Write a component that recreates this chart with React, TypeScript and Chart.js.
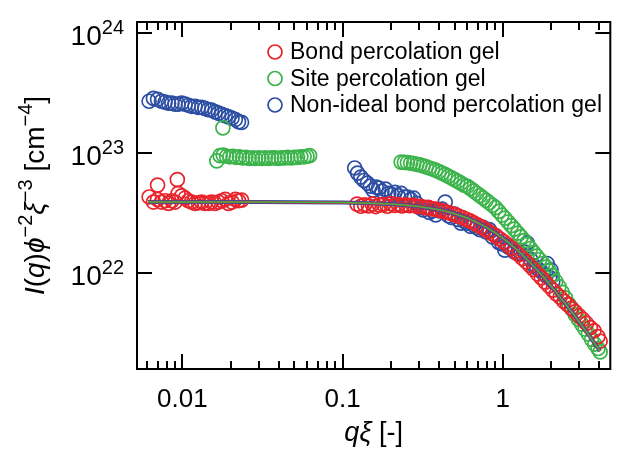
import React, { useEffect, useRef } from "react";
import { Chart, registerables } from "chart.js";

Chart.register(...registerables);

// ---------- data ----------
const legendLabels = ["Bond percolation gel", "Site percolation gel", "Non-ideal bond percolation gel"];
const seriesColors = ["#e8242b", "#3cb44b", "#2c4ea3"];

const xMajorTicks = [0.01, 0.1, 1];
const xMajorLabels = ["0.01", "0.1", "1"];
const xMinorTicks = [0.006, 0.007, 0.008, 0.009, 0.02, 0.03, 0.04, 0.05, 0.06, 0.07, 0.08, 0.09, 0.2, 0.3, 0.4, 0.5, 0.6, 0.7, 0.8, 0.9, 2, 3, 4];
const yMajorTicks = [1e22, 1e23, 1e24];
const yTickExponents = ["22", "23", "24"];

// Bond percolation gel (red)
const redLowQ = [0.0062, 0.0066, 0.007, 0.007, 0.0074, 0.0078, 0.0082, 0.0086, 0.009, 0.0093, 0.0094, 0.0099, 0.0104, 0.0109, 0.0114, 0.012, 0.0126, 0.0132, 0.0138, 0.0145, 0.0152, 0.016, 0.0168, 0.0176, 0.0185, 0.0194, 0.0204, 0.0214, 0.0224, 0.0234];
const redLowI = [4.3e22, 3.9e22, 4.1e22, 5.4e22, 3.9e22, 4.0e22, 3.8e22, 4.0e22, 3.9e22, 6.0e22, 4.6e22, 4.4e22, 4.2e22, 4.0e22, 3.9e22, 3.8e22, 3.85e22, 3.9e22, 3.8e22, 3.8e22, 3.9e22, 3.8e22, 3.9e22, 4.0e22, 4.1e22, 3.8e22, 3.9e22, 4.1e22, 4.0e22, 4.05e22];
const redHighQ = [0.123, 0.13, 0.137, 0.145, 0.153, 0.161, 0.17, 0.18, 0.19, 0.2, 0.211, 0.223, 0.235, 0.248, 0.262, 0.277, 0.292, 0.308, 0.325, 0.343, 0.362, 0.382, 0.404, 0.426, 0.45, 0.475, 0.501, 0.529, 0.559, 0.59, 0.623, 0.657, 0.694, 0.733, 0.774, 0.817, 0.862, 0.91, 0.961, 1.015, 1.07, 1.13, 1.19, 1.26, 1.33, 1.4, 1.48, 1.56, 1.65, 1.74, 1.84, 1.94, 2.05, 2.16, 2.28, 2.41, 2.54, 2.68, 2.83, 2.99, 3.16, 3.33, 3.52, 3.71, 3.92, 4.05];
const redHighI = [3.75e22, 3.6e22, 3.7e22, 3.62e22, 3.75e22, 3.58e22, 3.68e22, 3.72e22, 3.6e22, 3.78e22, 3.66e22, 3.72e22, 3.62e22, 3.7e22, 3.64e22, 3.66e22, 3.58e22, 3.6e22, 3.5e22, 3.52e22, 3.42e22, 3.4e22, 3.32e22, 3.28e22, 3.2e22, 3.14e22, 3.06e22, 2.98e22, 2.9e22, 2.8e22, 2.72e22, 2.62e22, 2.52e22, 2.42e22, 2.32e22, 2.22e22, 2.12e22, 2.02e22, 1.92e22, 1.82e22, 1.72e22, 1.61e22, 1.52e22, 1.42e22, 1.32e22, 1.24e22, 1.15e22, 1.07e22, 9.8e21, 9.1e21, 8.4e21, 7.8e21, 7.2e21, 6.7e21, 6.3e21, 5.8e21, 5.45e21, 5.1e21, 4.75e21, 4.4e21, 4.1e21, 3.8e21, 3.5e21, 3.3e21, 2.95e21, 2.7e21];

// Site percolation gel (green)
const greenLowQ = [0.0164, 0.0172, 0.0179, 0.018, 0.0189, 0.0198, 0.0207, 0.0217, 0.0227, 0.0238, 0.0249, 0.0261, 0.0273, 0.0286, 0.03, 0.0314, 0.0329, 0.0345, 0.0361, 0.0378, 0.0396, 0.0415, 0.0435, 0.0455, 0.0477, 0.05, 0.0524, 0.0549, 0.0575, 0.06, 0.0622];
const greenLowI = [8.6e22, 9.5e22, 1.62e23, 9.6e22, 9.4e22, 9.3e22, 9.4e22, 9.2e22, 9.3e22, 9.1e22, 9.2e22, 9.0e22, 9.1e22, 9.0e22, 9.1e22, 9.0e22, 9.1e22, 9.0e22, 9.1e22, 9.1e22, 9.0e22, 9.1e22, 9.1e22, 9.2e22, 9.1e22, 9.2e22, 9.2e22, 9.3e22, 9.3e22, 9.4e22, 9.5e22];
const greenHighQ = [0.232, 0.243, 0.254, 0.266, 0.278, 0.291, 0.304, 0.318, 0.333, 0.348, 0.364, 0.381, 0.399, 0.418, 0.437, 0.457, 0.478, 0.5, 0.523, 0.548, 0.573, 0.6, 0.628, 0.657, 0.687, 0.719, 0.752, 0.787, 0.823, 0.862, 0.901, 0.943, 0.987, 1.03, 1.08, 1.13, 1.18, 1.24, 1.3, 1.36, 1.42, 1.49, 1.56, 1.63, 1.7, 1.78, 1.86, 1.95, 2.04, 2.14, 2.24, 2.35, 2.46, 2.58, 2.7, 2.83, 2.97, 3.11, 3.26, 3.42, 3.58, 3.75, 3.93, 4.05];
const greenHighI = [8.4e22, 8.35e22, 8.3e22, 8.25e22, 8.15e22, 8.05e22, 7.95e22, 7.8e22, 7.65e22, 7.5e22, 7.35e22, 7.2e22, 7.0e22, 6.8e22, 6.6e22, 6.4e22, 6.2e22, 6.0e22, 5.8e22, 5.6e22, 5.4e22, 5.28e22, 5.05e22, 4.83e22, 4.62e22, 4.41e22, 4.22e22, 4.03e22, 3.85e22, 3.67e22, 3.5e22, 3.26e22, 3.04e22, 2.86e22, 2.66e22, 2.48e22, 2.32e22, 2.15e22, 2.0e22, 1.86e22, 1.72e22, 1.6e22, 1.48e22, 1.38e22, 1.29e22, 1.2e22, 1.12e22, 1.04e22, 9.5e21, 8.5e21, 7.7e21, 6.9e21, 6.2e21, 5.5e21, 5.0e21, 4.5e21, 4.1e21, 3.75e21, 3.4e21, 3.1e21, 2.8e21, 2.55e21, 2.35e21, 2.2e21];

// Non-ideal bond percolation gel (blue)
const blueLowQ = [0.0062, 0.0066, 0.007, 0.0074, 0.0078, 0.0082, 0.0086, 0.009, 0.0094, 0.0099, 0.0104, 0.0109, 0.0114, 0.012, 0.0126, 0.0132, 0.0138, 0.0145, 0.0152, 0.016, 0.0168, 0.0176, 0.0185, 0.0194, 0.0204, 0.0214, 0.0224, 0.0234];
const blueLowI = [2.7e23, 2.85e23, 2.8e23, 2.7e23, 2.65e23, 2.6e23, 2.6e23, 2.55e23, 2.55e23, 2.6e23, 2.55e23, 2.5e23, 2.45e23, 2.45e23, 2.4e23, 2.4e23, 2.35e23, 2.3e23, 2.28e23, 2.2e23, 2.15e23, 2.1e23, 2.05e23, 2.0e23, 1.95e23, 1.9e23, 1.82e23, 1.8e23];
const blueHighQ = [0.119, 0.124, 0.13, 0.136, 0.143, 0.149, 0.155, 0.162, 0.168, 0.176, 0.185, 0.194, 0.203, 0.212, 0.222, 0.232, 0.243, 0.254, 0.266, 0.278, 0.29, 0.304, 0.318, 0.333, 0.348, 0.364, 0.381, 0.399, 0.418, 0.437, 0.457, 0.478, 0.5, 0.523, 0.548, 0.573, 0.6, 0.628, 0.657, 0.687, 0.719, 0.752, 0.787, 0.823, 0.862, 0.901, 0.943, 0.987, 1.03, 1.08, 1.13, 1.18, 1.24, 1.3, 1.36, 1.42, 1.49, 1.56, 1.63, 1.7, 1.78, 1.86, 1.89, 1.96, 2.0, 2.05];
const blueHighI = [7.5e22, 6.8e22, 6.3e22, 5.9e22, 5.6e22, 5.3e22, 4.9e22, 5.2e22, 5.1e22, 4.8e22, 5.0e22, 4.6e22, 4.5e22, 4.7e22, 4.4e22, 4.6e22, 4.3e22, 4.3e22, 4.1e22, 4.2e22, 3.8e22, 3.5e22, 3.35e22, 3.5e22, 3.2e22, 3.3e22, 3.05e22, 3.3e22, 3.4e22, 3.9e22, 3.0e22, 2.9e22, 3.1e22, 2.8e22, 2.6e22, 2.7e22, 2.6e22, 2.45e22, 2.5e22, 2.4e22, 2.3e22, 2.4e22, 2.2e22, 2.3e22, 2.0e22, 2.05e22, 1.8e22, 1.75e22, 1.55e22, 1.65e22, 1.6e22, 1.5e22, 1.45e22, 1.45e22, 1.5e22, 1.78e22, 1.3e22, 1.15e22, 1.1e22, 1.05e22, 1.0e22, 9.5e21, 1.2e22, 9.2e21, 1.06e22, 8.5e21];

// Fit curves (three nearly identical fits)
const fitQ = [0.0061, 0.01, 0.03, 0.1, 0.15, 0.2, 0.25, 0.3, 0.35, 0.4, 0.45, 0.5, 0.6, 0.7, 0.8, 0.9, 1.0, 1.1, 1.2, 1.3, 1.4, 1.5, 1.6, 1.7, 1.8, 1.9, 2.0, 2.2, 2.4, 2.6, 2.8, 3.0, 3.25, 3.5, 3.75, 4.05];
const fitI = [3.9e22, 3.9e22, 3.9e22, 3.86e22, 3.815e22, 3.75e22, 3.67e22, 3.58e22, 3.47e22, 3.36e22, 3.24e22, 3.12e22, 2.87e22, 2.62e22, 2.38e22, 2.155e22, 1.95e22, 1.765e22, 1.6e22, 1.45e22, 1.315e22, 1.2e22, 1.096e22, 1.003e22, 9.2e21, 8.46e21, 7.8e21, 6.67e21, 5.77e21, 5.03e21, 4.42e21, 3.9e21, 3.37e21, 2.95e21, 2.58e21, 2.24e21];

// ---------- helpers ----------
const FONT = '"Liberation Sans", Arial, Helvetica, sans-serif';
const pts = (qs: number[], is: number[]) => qs.map((q, i) => ({ x: q, y: is[i] }));

type Part = { t: string; size: number; italic?: boolean; dy?: number };

function richWidth(ctx: CanvasRenderingContext2D, parts: Part[]) {
  let w = 0;
  for (const p of parts) {
    ctx.font = `${p.italic ? "italic " : ""}${p.size}px ${FONT}`;
    w += ctx.measureText(p.t).width;
  }
  return w;
}
function drawRich(ctx: CanvasRenderingContext2D, parts: Part[], x: number, y: number) {
  let cx = x;
  for (const p of parts) {
    ctx.font = `${p.italic ? "italic " : ""}${p.size}px ${FONT}`;
    ctx.fillText(p.t, cx, y + (p.dy || 0));
    cx += ctx.measureText(p.t).width;
  }
}

const axesPlugin = {
  id: "paperAxes",
  afterDraw(chart: any) {
    const ctx: CanvasRenderingContext2D = chart.ctx;
    const { left, right, top, bottom } = chart.chartArea;
    const xs = chart.scales.x;
    const ys = chart.scales.y;
    ctx.save();
    ctx.strokeStyle = "#000";
    ctx.fillStyle = "#000";
    ctx.lineWidth = 2;
    ctx.strokeRect(left, top, right - left, bottom - top);
    const seg = (x1: number, y1: number, x2: number, y2: number) => {
      ctx.beginPath();
      ctx.moveTo(x1, y1);
      ctx.lineTo(x2, y2);
      ctx.stroke();
    };
    const MAJ = 15, MIN = 8;
    xMajorTicks.forEach((v) => {
      const px = Math.round(xs.getPixelForValue(v));
      seg(px, bottom, px, bottom - MAJ);
      seg(px, top, px, top + MAJ);
    });
    xMinorTicks.forEach((v) => {
      const px = Math.round(xs.getPixelForValue(v));
      seg(px, bottom, px, bottom - MIN);
      seg(px, top, px, top + MIN);
    });
    yMajorTicks.forEach((v) => {
      const py = Math.round(ys.getPixelForValue(v));
      seg(left, py, left + MAJ, py);
      seg(right, py, right - MAJ, py);
    });

    // x tick labels
    ctx.textBaseline = "alphabetic";
    ctx.textAlign = "center";
    ctx.font = `26px ${FONT}`;
    xMajorTicks.forEach((v, i) => {
      ctx.fillText(xMajorLabels[i], xs.getPixelForValue(v), 407);
    });

    // y tick labels 10^n
    ctx.textAlign = "left";
    yMajorTicks.forEach((v, i) => {
      const py = ys.getPixelForValue(v);
      const parts: Part[] = [
        { t: "10", size: 28, dy: 12 },
        { t: yTickExponents[i], size: 20, dy: 1 },
      ];
      const w = richWidth(ctx, parts);
      drawRich(ctx, parts, 124 - w, py);
    });

    // x title
    const xt: Part[] = [
      { t: "q", size: 27, italic: true },
      { t: "ξ", size: 27, italic: true },
      { t: " [-]", size: 27 },
    ];
    const xw = richWidth(ctx, xt);
    drawRich(ctx, xt, (left + right) / 2 - xw / 2, 441);

    // y title (rotated)
    const yt: Part[] = [
      { t: "I", size: 28, italic: true },
      { t: "(", size: 28 },
      { t: "q", size: 28, italic: true },
      { t: ")", size: 28 },
      { t: "ϕ", size: 28, italic: true },
      { t: "−2", size: 20, dy: -12 },
      { t: "ξ", size: 28, italic: true },
      { t: "−3", size: 20, dy: -12 },
      { t: " [cm", size: 28 },
      { t: "−4", size: 20, dy: -12 },
      { t: "]", size: 28 },
    ];
    const yw = richWidth(ctx, yt);
    ctx.save();
    ctx.translate(44, (top + bottom) / 2);
    ctx.rotate(-Math.PI / 2);
    drawRich(ctx, yt, -yw / 2, 0);
    ctx.restore();

    // legend
    const lx = 275, ly0 = 52, dyRow = 26.5;
    legendLabels.forEach((lab, i) => {
      const y = ly0 + i * dyRow;
      ctx.strokeStyle = seriesColors[i];
      ctx.lineWidth = 1.7;
      ctx.beginPath();
      ctx.arc(lx, y, 7, 0, Math.PI * 2);
      ctx.stroke();
      ctx.fillStyle = "#000";
      ctx.font = `23px ${FONT}`;
      ctx.textBaseline = "middle";
      ctx.fillText(lab, 290, y + 1);
    });
    ctx.restore();
  },
};

function scatterSet(label: string, data: any[], color: string, order: number) {
  return {
    label,
    data,
    showLine: false,
    pointStyle: "circle",
    pointRadius: 7,
    pointBorderWidth: 1.7,
    borderColor: color,
    pointBorderColor: color,
    backgroundColor: "rgba(0,0,0,0)",
    pointBackgroundColor: "rgba(0,0,0,0)",
    order,
  };
}
function fitSet(label: string, color: string, width: number, order: number) {
  return {
    label,
    data: pts(fitQ, fitI),
    showLine: true,
    pointRadius: 0,
    borderColor: color,
    borderWidth: width,
    fill: false,
    tension: 0,
    order,
  };
}

export default function App() {
  const ref = useRef<HTMLCanvasElement>(null);
  useEffect(() => {
    if (!ref.current) return;
    const chart = new Chart(ref.current, {
      type: "scatter",
      data: {
        datasets: [
          fitSet("fit green", seriesColors[1], 1.5, 0),
          fitSet("fit red", seriesColors[0], 2.4, 1),
          fitSet("fit blue", seriesColors[2], 4, 2),
          scatterSet(legendLabels[0], [...pts(redLowQ, redLowI), ...pts(redHighQ, redHighI)], seriesColors[0], 3),
          scatterSet(legendLabels[1], [...pts(greenLowQ, greenLowI), ...pts(greenHighQ, greenHighI)], seriesColors[1], 4),
          scatterSet(legendLabels[2], [...pts(blueLowQ, blueLowI), ...pts(blueHighQ, blueHighI)], seriesColors[2], 5),
        ] as any,
      },
      options: {
        responsive: false,
        animation: false,
        devicePixelRatio: 1,
        layout: { padding: { left: 137, top: 22, right: 2, bottom: 92 } },
        plugins: { legend: { display: false }, tooltip: { enabled: false } },
        scales: {
          x: { type: "logarithmic", min: 0.005209, max: 4.687, display: false },
          y: { type: "logarithmic", min: 1.585e21, max: 1.235e24, display: false },
        },
      } as any,
      plugins: [axesPlugin],
    });
    return () => chart.destroy();
  }, []);
  return (
    <div style={{ position: "fixed", left: 0, top: 0, width: 619, height: 461, background: "#fff" }}>
      <canvas ref={ref} width={619} height={461} style={{ display: "block", width: 619, height: 461 }} />
    </div>
  );
}
